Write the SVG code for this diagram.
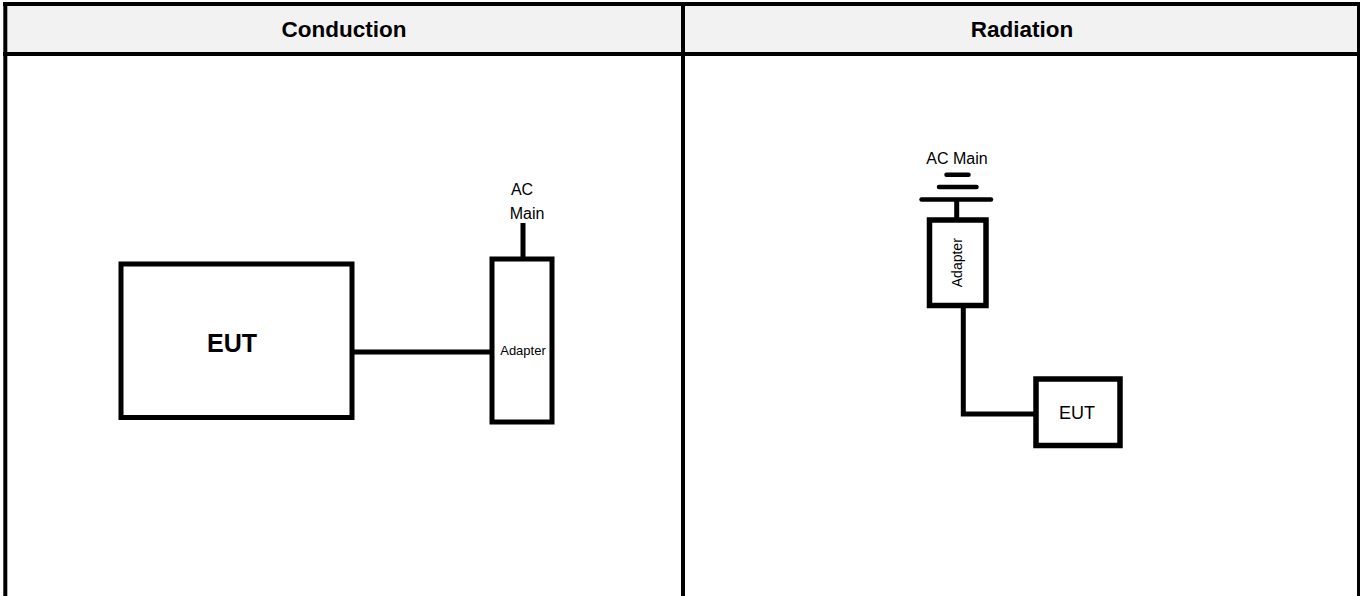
<svg xmlns="http://www.w3.org/2000/svg" width="1360" height="596" viewBox="0 0 1360 596">
<style>
.frame{stroke:#000;stroke-width:4;fill:none}
.box{fill:#fff;stroke:#000;stroke-width:5}
.wire{fill:none;stroke:#000;stroke-width:5}
.gnd{stroke:#000;stroke-width:4.5;stroke-linecap:round}
.hdr{font-family:"Liberation Sans",Arial,sans-serif;font-weight:bold;font-size:22.5px;fill:#000;text-anchor:middle}
.lbl{font-family:"Liberation Sans",Arial,sans-serif;fill:#000;text-anchor:middle}
</style>
<rect width="1360" height="596" fill="#fff"/>
<g id="table">
<rect x="5" y="4" width="1353" height="50" fill="#f2f2f2"/>
<line class="frame" x1="3" y1="4" x2="1360" y2="4"/>
<line class="frame" x1="3" y1="54" x2="1360" y2="54"/>
<line class="frame" x1="5.3" y1="2" x2="5.3" y2="596"/>
<line class="frame" x1="683" y1="2" x2="683" y2="596"/>
<line class="frame" x1="1358.5" y1="2" x2="1358.5" y2="596" style="stroke-width:3"/>
<text class="hdr" x="344" y="37">Conduction</text>
<text class="hdr" x="1022" y="37">Radiation</text>
</g>
<g id="connectors">
<line class="wire" x1="352" y1="352" x2="492" y2="352"/>
<line class="wire" x1="523" y1="223" x2="523" y2="259"/>
<line class="wire" x1="956.7" y1="199" x2="956.7" y2="220"/>
<polyline class="wire" points="963.3,305 963.3,414 1036,414"/>
</g>
<g id="eut-conduction">
<rect class="box" x="121" y="264" width="231" height="153.5"/>
<text class="lbl" x="232" y="352" style="font-size:25px;font-weight:bold">EUT</text>
</g>
<g id="adapter-conduction">
<rect class="box" x="492" y="259" width="60" height="163"/>
<text class="lbl" x="523" y="355" style="font-size:13px">Adapter</text>
</g>
<g id="acmain-conduction">
<text class="lbl" x="522" y="195" style="font-size:16px">AC</text>
<text class="lbl" x="527" y="219" style="font-size:16px">Main</text>
</g>
<g id="acmain-radiation">
<text class="lbl" x="957" y="164" style="font-size:16px">AC Main</text>
<line class="gnd" x1="946.5" y1="174.7" x2="968.5" y2="174.7"/>
<line class="gnd" x1="939" y1="187" x2="976.5" y2="187"/>
<line class="gnd" x1="921.5" y1="199.5" x2="991" y2="199.5"/>
</g>
<g id="adapter-radiation">
<rect class="box" x="929.5" y="220" width="56.5" height="85.5" style="stroke-width:5.5"/>
<text class="lbl" transform="translate(962,262.7) rotate(-90)" x="0" y="0" style="font-size:14px">Adapter</text>
</g>
<g id="eut-radiation">
<rect class="box" x="1036" y="379" width="84" height="66.5" style="stroke-width:5.5"/>
<text class="lbl" x="1077" y="418.5" style="font-size:18px">EUT</text>
</g>
</svg>
